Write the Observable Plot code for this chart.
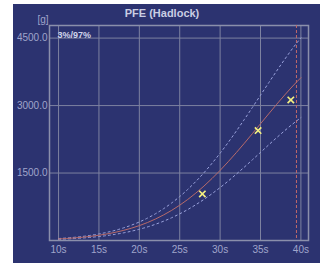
<!DOCTYPE html>
<html>
<head>
<meta charset="utf-8">
<script src="https://cdn.jsdelivr.net/npm/d3@7"></script>
<script src="https://cdn.jsdelivr.net/npm/@observablehq/plot@0.6"></script>
<style>
  html, body { margin: 0; padding: 0; background: #ffffff; }
  #wrap { position: relative; width: 320px; height: 263px; overflow: hidden; }
  #panel { position: absolute; left: 13px; top: 4px; right: 0; bottom: 0; background: #2c3370; }
  #chart { position: absolute; left: 0; top: 0; }
  #chart svg { background: transparent; }
</style>
</head>
<body>
<div id="wrap"><div id="panel"></div><div id="chart"></div></div>
<script>
const title = "PFE (Hadlock)";
const unitLabel = "[g]";
const bandLabel = "3%/97%";
const weeks = [10,11,12,13,14,15,16,17,18,19,20,21,22,23,24,25,26,27,28,29,30,31,32,33,34,35,36,37,38,39,40];
const p50 = [35,45,58,73,93,117,146,181,223,273,331,399,478,568,670,785,913,1055,1210,1379,1559,1751,1953,2162,2377,2595,2813,3028,3236,3435,3619];
const p3 = [26,34,44,55,70,88,110,137,168,206,250,301,361,429,506,593,689,797,914,1041,1177,1322,1475,1632,1795,1959,2124,2286,2443,2593,2732];
const p97 = [44,56,72,91,116,146,182,225,278,340,412,497,595,707,834,977,1137,1314,1507,1717,1941,2180,2432,2692,2959,3231,3502,3770,4029,4277,4506];
const measuredWeeks = [27.8, 34.7, 38.75];
const measuredGrams = [1035, 2444, 3125];
const markerWeek = 39.45;
const xTicks = [10, 15, 20, 25, 30, 35, 40];
const yTicks = [1500, 3000, 4500];

const median = weeks.map((w, i) => ({w, g: p50[i]}));
const low = weeks.map((w, i) => ({w, g: p3[i]}));
const high = weeks.map((w, i) => ({w, g: p97[i]}));
const points = measuredWeeks.map((w, i) => ({w, g: measuredGrams[i]}));

const grid = "#7d82a0";
const tickColor = "#a0a5cb";
const font = "'Liberation Sans', Arial, sans-serif";

const chart = Plot.plot({
  width: 320,
  height: 263,
  marginLeft: 49,
  marginRight: 12,
  marginTop: 25,
  marginBottom: 23,
  style: {background: "transparent", fontFamily: font, fontSize: "10px"},
  x: {domain: [8.88, 40.94]},
  y: {domain: [0, 4780]},
  marks: [
    Plot.gridX(xTicks, {stroke: grid, strokeOpacity: 1, strokeWidth: 1}),
    Plot.gridY(yTicks, {stroke: grid, strokeOpacity: 1, strokeWidth: 1}),
    Plot.frame({stroke: "#8a8fab", strokeWidth: 1.5}),
    Plot.axisX(xTicks, {tickSize: 0, tickPadding: 5, tickFormat: d => d + "s", fill: tickColor, label: null, fontSize: 10}),
    Plot.axisY(yTicks, {tickSize: 0, tickPadding: 2, tickFormat: d => d.toFixed(1), fill: tickColor, label: null, fontSize: 10}),
    Plot.ruleX([markerWeek], {stroke: "#c06a6a", strokeWidth: 1, strokeDasharray: "3,2"}),
    Plot.line(low, {x: "w", y: "g", stroke: "#9aa2dc", strokeWidth: 1, strokeDasharray: "2,3", curve: "monotone-x"}),
    Plot.line(high, {x: "w", y: "g", stroke: "#9aa2dc", strokeWidth: 1, strokeDasharray: "2,3", curve: "monotone-x"}),
    Plot.line(median, {x: "w", y: "g", stroke: "#b76a6a", strokeWidth: 1, curve: "monotone-x"}),
    Plot.dot(points, {x: "w", y: "g", symbol: "times", r: 3, stroke: "#f4f080", strokeWidth: 1.7}),
    Plot.text([title], {text: d => d, frameAnchor: "top", dx: -17, dy: -12, lineAnchor: "middle", fill: "#c9cde3", fontWeight: "bold", fontSize: 11}),
    Plot.text([unitLabel], {text: d => d, frameAnchor: "top-left", dx: -1, dy: -6, textAnchor: "end", lineAnchor: "middle", fill: tickColor, fontSize: 10}),
    Plot.text([bandLabel], {text: d => d, frameAnchor: "top-left", dx: 8, dy: 10, textAnchor: "start", lineAnchor: "middle", fill: "#d0d4ea", fontWeight: "bold", fontSize: 9})
  ]
});
document.getElementById("chart").appendChild(chart);
</script>
</body>
</html>
